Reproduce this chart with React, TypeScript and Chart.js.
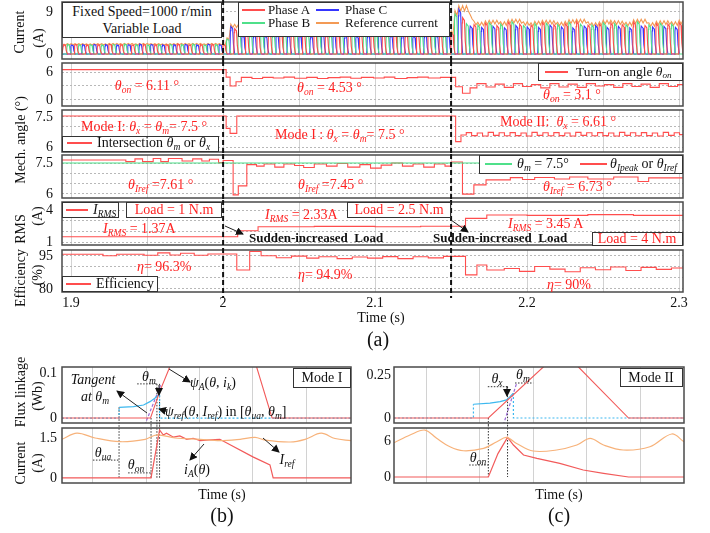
import React, { useEffect, useRef } from 'react';
import { Chart, registerables } from 'chart.js';
Chart.register(...registerables);

const SERIF = '"Liberation Serif", "Times New Roman", serif';
const RED = '#ff4d4d';
const TRED = '#ff2222';
const GREEN = '#4fe08a';
const BLUE = '#3535ff';
const ORANGE = '#f39a55';
const B_RED = '#f25a5a';
const B_ORANGE = '#f7b27a';
const B_BLUE = '#3cb8ef';
const PURPLE = '#9a6ad6';

// ---------------- (a) time axis ----------------
const timeRange = [1.894, 2.3026];
const timeTicks = [1.9, 1.95, 2.0, 2.05, 2.1, 2.15, 2.2, 2.25, 2.3];
const timeLabels = [1.9, 2.0, 2.1, 2.2, 2.3];
const loadSteps = [2.0, 2.15];

// ---------------- (a) phase currents ----------------
const ELEC_PERIOD = 0.0075; // 1000 r/min
const firstOnset = [1.8945, 1.897, 1.8995]; // phase A, B, C
const pulseShapeT = [0, 0.04, 0.08, 0.24, 0.31, 0.42];
const pulseShapeV = [0, 0.85, 1, 0.92, 0.35, 0];
const peaksA = [
  2.0, 2.05, 1.95, 2.0, 2.1, 2.0, 1.95, 2.05, 2.0, 2.0, 2.1, 1.95, 2.0, 2.05, 2.0,
  5.4, 4.4, 4.2, 4.5, 4.3, 4.4, 4.2, 4.5, 4.3, 4.4, 4.6, 4.3, 4.2, 4.4, 4.5, 4.3, 4.2, 4.4, 4.3, 4.5,
  7.8, 6.3, 6.6, 6.1, 6.8, 6.4, 6.2, 6.7, 6.3, 6.5, 6.9, 6.2, 6.4, 6.6, 6.3, 6.8, 6.1, 6.5, 6.4, 6.7,
];
const peaksB = [
  2.05, 2.0, 2.0, 1.95, 2.05, 2.1, 2.0, 1.95, 2.0, 2.05, 2.0, 2.1, 1.95, 2.0,
  3.2, 4.6, 4.3, 4.4, 4.2, 4.5, 4.3, 4.4, 4.6, 4.2, 4.3, 4.5, 4.4, 4.2, 4.3, 4.5, 4.4, 4.3, 4.6, 4.2,
  8.6, 6.5, 6.2, 6.7, 6.4, 6.9, 6.1, 6.5, 6.6, 6.3, 6.8, 6.4, 6.2, 6.7, 6.5, 6.3, 6.9, 6.2, 6.6, 6.4, 6.5,
];
const peaksC = [
  1.95, 2.0, 2.05, 2.0, 1.95, 2.0, 2.1, 2.05, 1.95, 2.0, 2.05, 1.95, 2.1, 2.0,
  5.9, 3.9, 4.1, 3.8, 4.0, 4.2, 3.9, 3.8, 4.1, 4.0, 3.9, 3.8, 4.1, 4.2, 3.9, 4.0, 3.8, 4.1, 3.9, 4.0,
  9.6, 6.0, 5.7, 5.9, 5.6, 6.1, 5.8, 5.7, 6.2, 5.8, 5.6, 6.0, 6.1, 5.7, 5.9, 5.6, 6.0, 5.8, 5.9, 5.7,
];
const refAbovePeak = 1.08;
const refDip = 0.96;

// ---------------- (a) control quantities (time, value) steps ----------------
const thetaOn = [
  [1.894, 6.5], [2.002, 4.9], [2.0046, 3.0], [2.0085, 3.9], [2.012, 4.85], [2.019, 4.6], [2.026, 4.85],
  [2.033, 4.7], [2.04, 4.9], [2.047, 4.65], [2.055, 4.85], [2.062, 4.6], [2.069, 4.8], [2.077, 4.9],
  [2.084, 4.65], [2.091, 4.85], [2.099, 4.7], [2.106, 4.9], [2.113, 4.6], [2.121, 4.8], [2.128, 4.9],
  [2.135, 4.7], [2.143, 4.85], [2.153, 2.85], [2.1575, 1.45], [2.1625, 2.6], [2.167, 3.5], [2.173, 2.8],
  [2.179, 3.4], [2.185, 2.7], [2.191, 3.5], [2.197, 2.9], [2.203, 3.3], [2.209, 2.6], [2.215, 3.5],
  [2.221, 2.8], [2.227, 3.4], [2.233, 2.7], [2.239, 3.5], [2.245, 3.0], [2.251, 3.3], [2.257, 2.7],
  [2.263, 3.5], [2.269, 2.9], [2.275, 3.4], [2.281, 2.7], [2.287, 3.5], [2.293, 2.9], [2.299, 3.3], [2.3026, 3.3],
];
const thetaX = [
  [1.894, 7.55], [2.002, 6.93], [2.0046, 6.68], [2.009, 7.55], [2.153, 6.27], [2.1565, 6.6],
  [2.16, 6.72], [2.1635, 6.57], [2.1672, 6.7], [2.1707, 6.55], [2.1744, 6.73], [2.1779, 6.58],
  [2.1816, 6.71], [2.1851, 6.56], [2.1888, 6.72], [2.1923, 6.57], [2.196, 6.7], [2.1995, 6.55],
  [2.2032, 6.73], [2.2067, 6.58], [2.2104, 6.71], [2.2139, 6.56], [2.2176, 6.72], [2.2211, 6.57],
  [2.2248, 6.7], [2.2283, 6.55], [2.232, 6.73], [2.2355, 6.58], [2.2392, 6.71], [2.2427, 6.56],
  [2.2464, 6.72], [2.2499, 6.57], [2.2536, 6.7], [2.2571, 6.55], [2.2608, 6.73], [2.2643, 6.58],
  [2.268, 6.71], [2.2715, 6.56], [2.2752, 6.72], [2.2787, 6.57], [2.2824, 6.7], [2.2859, 6.55],
  [2.2896, 6.73], [2.2931, 6.58], [2.2968, 6.71], [2.3003, 6.62], [2.3026, 6.62],
];
const thetaM = [[1.894, 7.5], [2.3026, 7.5]];
const thetaIref = [
  [1.894, 7.65], [1.936, 7.57], [1.942, 7.7], [1.947, 7.57], [1.954, 7.72], [1.959, 7.57], [1.964, 7.72],
  [1.973, 7.6], [1.98, 7.7], [1.986, 7.6], [1.991, 7.68], [1.997, 7.52], [2.0, 7.62], [2.0066, 5.95],
  [2.01, 6.39], [2.0156, 7.42], [2.022, 7.35], [2.027, 7.45], [2.034, 7.3], [2.04, 7.45], [2.047, 7.38],
  [2.053, 7.28], [2.06, 7.45], [2.068, 7.35], [2.075, 7.48], [2.082, 7.3], [2.09, 7.42], [2.097, 7.25],
  [2.104, 7.4], [2.111, 7.5], [2.118, 7.35], [2.125, 7.45], [2.132, 7.3], [2.139, 7.45], [2.146, 7.35],
  [2.15, 7.55], [2.1575, 5.99], [2.165, 6.44], [2.173, 6.68], [2.189, 6.79], [2.197, 6.7], [2.205, 6.8],
  [2.218, 6.72], [2.228, 6.82], [2.24, 6.72], [2.257, 6.82], [2.273, 6.6], [2.28, 6.78], [2.3026, 6.78],
];
const iRms = [
  [1.894, 1.5], [2.0096, 2.06], [2.023, 2.43], [2.06, 2.47], [2.1, 2.43], [2.13, 2.48], [2.1595, 3.22],
  [2.1735, 3.53], [2.2, 3.5], [2.24, 3.57], [2.27, 3.5], [2.3026, 3.53],
];
const efficiency = [
  [1.894, 95.8], [1.921, 95.1], [1.93, 95.8], [1.948, 95.3], [1.957, 96.4], [1.965, 95.4], [1.972, 96.2],
  [1.981, 95.3], [1.99, 95.9], [2.009, 88.6], [2.0175, 97.0], [2.025, 95.1], [2.035, 94.2], [2.045, 94.9],
  [2.055, 94.0], [2.063, 94.6], [2.075, 93.8], [2.085, 94.5], [2.095, 94.0], [2.105, 94.7], [2.115, 93.8],
  [2.125, 94.6], [2.135, 94.1], [2.145, 94.8], [2.1595, 86.4], [2.167, 90.9], [2.1735, 88.6], [2.185, 89.3],
  [2.195, 88.0], [2.205, 90.2], [2.215, 89.0], [2.225, 87.8], [2.235, 89.6], [2.245, 88.7], [2.255, 90.0],
  [2.265, 88.4], [2.275, 89.8], [2.285, 88.9], [2.295, 89.5], [2.3026, 89.5],
];

// ---------------- (b) Mode I ----------------
const gridB = [0.58, 1.58, 2.58, 3.58, 4.58];
const fluxA_b = [[0, 0], [1.66, 0], [1.83, 0.058], [2.0, 0.107], [2.05, 0.125], [3.6, 0.125], [3.65, 0.113], [3.94, 0], [5.42, 0]];
const fluxRef_b = [[1.07, 0.0238], [1.34, 0.0251], [1.53, 0.0289], [1.65, 0.0363], [1.74, 0.044], [1.81, 0.0511]];
const fluxRefOff1_b = [[0, 0], [1.07, 0], [1.07, 0.0238]];
const fluxRefOff2_b = [[1.83, 0.0511], [1.83, 0], [5.42, 0]];
const tangent_b = [[1.55, -0.016], [1.85, 0.073]];
const iRef_b = [[0, 1.45], [0.28, 1.68], [0.62, 1.5], [1.09, 1.36], [1.56, 1.45], [1.78, 1.62], [2.12, 1.5], [2.59, 1.45], [2.96, 1.4], [3.34, 1.45], [3.62, 1.52], [3.81, 1.42], [4.28, 1.35], [4.56, 1.45], [4.86, 1.68], [5.12, 1.48], [5.42, 1.4]];
const iA_b = [[0, 0], [1.67, 0], [1.83, 1.8], [1.9, 1.61], [1.96, 1.68], [2.09, 1.53], [2.21, 1.58], [2.34, 1.45], [2.46, 1.49], [2.59, 1.4], [2.78, 1.43], [2.96, 1.45], [3.58, 0.79], [3.9, 0.49], [3.96, 0], [5.42, 0]];
const angles_b = { ua: 1.07, on: 1.67, m1: 1.78, m2: 1.83 };

// ---------------- (c) Mode II ----------------
const gridC = [0.61, 1.61, 2.61, 3.61, 4.62];
const fluxA_c = [[0, 0], [1.77, 0], [2.8, 0.2965], [2.9, 0.325], [3.37, 0.325], [3.46, 0.2965], [4.4, 0], [5.44, 0]];
const fluxRef_c = [[1.49, 0.08], [1.8, 0.086], [1.99, 0.095], [2.11, 0.105], [2.18, 0.125], [2.24, 0.145]];
const fluxRefOff1_c = [[0, 0], [1.49, 0], [1.49, 0.08]];
const fluxRefOff2_c = [[2.24, 0.145], [2.24, 0], [5.44, 0]];
const tangent_c = [[2.05, -0.041], [2.3, 0.2018]];
const iRef_c = [[0, 5.7], [0.3, 7.0], [0.58, 7.83], [0.8, 6.45], [1.05, 5.05], [1.3, 4.38], [1.68, 4.78], [1.93, 5.88], [2.11, 6.6], [2.3, 5.6], [2.61, 4.33], [3.05, 4.5], [3.43, 5.33], [3.68, 6.45], [3.93, 5.33], [4.3, 4.5], [4.8, 5.05], [5.21, 7.17], [5.44, 5.88]];
const iA_c = [[0, 0], [1.77, 0], [1.95, 3.9], [2.13, 6.6], [2.24, 5.33], [2.43, 3.67], [2.68, 3.1], [3.11, 2.28], [3.55, 1.17], [3.93, 0.61], [4.4, 0], [5.44, 0]];
const angles_c = { on: 1.77, x: 2.13 };

// ---------------- helpers ----------------
const pts = (a: number[][]) => a.map(([x, y]) => ({ x, y }));

function pulseTrain(first: number, peaks: number[]) {
  const out: { x: number; y: number }[] = [{ x: timeRange[0], y: 0 }];
  peaks.forEach((p, k) => {
    const t0 = first + k * ELEC_PERIOD;
    pulseShapeT.forEach((f, j) => out.push({ x: t0 + f * ELEC_PERIOD, y: p * pulseShapeV[j] }));
  });
  return out.filter((q) => q.x <= timeRange[1] + 0.01);
}

function referenceCurrent() {
  const all: { t: number; p: number }[] = [];
  [peaksA, peaksB, peaksC].forEach((pk, ph) =>
    pk.forEach((p, k) => all.push({ t: firstOnset[ph] + k * ELEC_PERIOD + pulseShapeT[2] * ELEC_PERIOD, p }))
  );
  all.sort((a, b) => a.t - b.t);
  const out: { x: number; y: number }[] = [];
  all.forEach((e, i) => {
    const lvl = Math.max(e.p, i > 0 ? all[i - 1].p : e.p, i > 1 ? all[i - 2].p : e.p);
    out.push({ x: e.t, y: lvl * refAbovePeak });
    out.push({ x: e.t + ELEC_PERIOD / 6, y: lvl * refDip });
  });
  return out;
}

function line(data: any[], color: string, extra: any = {}) {
  return { data, borderColor: color, backgroundColor: color, borderWidth: 1.1, pointRadius: 0, fill: false, tension: 0, ...extra };
}

const framePlugin = {
  id: 'frame',
  afterDatasetsDraw(chart: any) {
    const { ctx, chartArea: a } = chart;
    ctx.save();
    ctx.strokeStyle = '#4a4a4a';
    ctx.lineWidth = 1.5;
    ctx.setLineDash([]);
    ctx.strokeRect(a.left, a.top, a.right - a.left, a.bottom - a.top);
    ctx.restore();
  },
};

function loadLinePlugin(bottomExtra: number | null) {
  return {
    id: 'loadLines',
    afterDraw(chart: any) {
      const { ctx, scales, chartArea, height } = chart;
      const yEnd = bottomExtra == null ? height : chartArea.bottom + bottomExtra;
      ctx.save();
      ctx.strokeStyle = '#111';
      ctx.lineWidth = 2;
      ctx.setLineDash([5, 3]);
      loadSteps.forEach((v) => {
        const px = scales.x.getPixelForValue(v);
        ctx.beginPath();
        ctx.moveTo(px, 0);
        ctx.lineTo(px, yEnd);
        ctx.stroke();
      });
      ctx.restore();
    },
  };
}

function makeConfig(s: any) {
  const fmt = (v: number) => String(+v.toFixed(3));
  return {
    type: 'line',
    data: { datasets: s.datasets },
    options: {
      animation: false,
      responsive: false,
      devicePixelRatio: 1,
      events: [],
      layout: { padding: s.pad },
      plugins: { legend: { display: false }, tooltip: { enabled: false } },
      scales: {
        x: {
          type: 'linear',
          min: s.xRange[0],
          max: s.xRange[1],
          afterBuildTicks: (sc: any) => { sc.ticks = s.xTicks.map((v: number) => ({ value: v })); },
          grid: { color: '#d2d2d2', lineWidth: 1, drawTicks: false },
          border: { display: false },
          ticks: {
            display: !!s.xLabels,
            autoSkip: false,
            maxRotation: 0,
            padding: 3,
            color: '#111',
            font: { family: SERIF, size: 14 },
            callback: (v: number) => (s.xLabels && s.xLabels.some((l: number) => Math.abs(l - v) < 1e-6) ? fmt(v) : ''),
          },
          afterFit: (sc: any) => { sc.height = s.xHeight || 0; sc.paddingLeft = 0; sc.paddingRight = 0; sc.paddingTop = 0; sc.paddingBottom = 0; },
        },
        y: {
          type: 'linear',
          min: s.yRange[0],
          max: s.yRange[1],
          afterBuildTicks: (sc: any) => { sc.ticks = s.yTicks.map((v: number) => ({ value: v })); },
          grid: { display: s.yGrid !== false, color: '#b8b8b8', lineWidth: 1, drawTicks: false },
          border: { display: false, dash: [2, 2] },
          ticks: {
            autoSkip: false,
            padding: s.tickPad,
            color: '#111',
            font: { family: SERIF, size: 14 },
            callback: (v: number) => (s.yLabels.some((l: number) => Math.abs(l - v) < 1e-9) ? fmt(v) : ''),
          },
          afterFit: (sc: any) => { sc.width = s.yWidth; sc.paddingTop = 0; sc.paddingBottom = 0; sc.paddingLeft = 0; sc.paddingRight = 0; },
        },
      },
    },
    plugins: s.plugins,
  };
}

function ChartBox({ left, top, width, height, spec }: any) {
  const ref = useRef<HTMLCanvasElement>(null);
  useEffect(() => {
    const c = new Chart(ref.current as HTMLCanvasElement, makeConfig(spec()) as any);
    return () => c.destroy();
  }, []);
  return <canvas ref={ref} width={width} height={height} style={{ position: 'absolute', left, top, width, height, display: 'block' }} />;
}

// ---------------- panel specs ----------------
const A_COMMON = { xRange: timeRange, xTicks: timeTicks, yWidth: 62, tickPad: 9 };
const step = (a: number[][], color: string) => line(pts(a), color, { stepped: true });

const specA1 = () => ({
  ...A_COMMON, pad: { top: 2, bottom: 2, left: 0, right: 17 },
  yRange: [-1.07, 11.14], yTicks: [0, 9], yLabels: [0, 9],
  datasets: [
    line(pulseTrain(firstOnset[0], peaksA), RED),
    line(pulseTrain(firstOnset[1], peaksB), GREEN),
    line(pulseTrain(firstOnset[2], peaksC), BLUE),
    line(referenceCurrent(), ORANGE),
  ],
  plugins: [framePlugin, loadLinePlugin(null)],
});
const specA2 = () => ({
  ...A_COMMON, pad: { top: 2, bottom: 2, left: 0, right: 17 },
  yRange: [-1.29, 7.93], yTicks: [0, 3, 6], yLabels: [0, 6],
  datasets: [step(thetaOn, RED)],
  plugins: [framePlugin, loadLinePlugin(null)],
});
const specA3 = () => ({
  ...A_COMMON, pad: { top: 2, bottom: 2, left: 0, right: 17 },
  yRange: [5.75, 7.85], yTicks: [6, 6.5, 7, 7.5], yLabels: [6, 7.5],
  datasets: [step(thetaX, RED)],
  plugins: [framePlugin, loadLinePlugin(null)],
});
const specA4 = () => ({
  ...A_COMMON, pad: { top: 1, bottom: 2, left: 0, right: 17 },
  yRange: [5.8, 7.89], yTicks: [6, 6.5, 7, 7.5], yLabels: [6, 7.5],
  datasets: [line(pts(thetaM), GREEN), step(thetaIref, RED)],
  plugins: [framePlugin, loadLinePlugin(null)],
});
const specA5 = () => ({
  ...A_COMMON, pad: { top: 2, bottom: 3, left: 0, right: 17 },
  yRange: [0.72, 4.75], yTicks: [1, 2, 3, 4], yLabels: [1, 4],
  datasets: [step(iRms, RED)],
  plugins: [framePlugin, loadLinePlugin(null)],
});
const specA6 = () => ({
  ...A_COMMON, pad: { top: 2, bottom: 0, left: 0, right: 17 }, xLabels: timeLabels, xHeight: 26,
  yRange: [78.6, 97.7], yTicks: [80, 85, 90, 95], yLabels: [80, 95],
  datasets: [step(efficiency, RED)],
  plugins: [framePlugin, loadLinePlugin(6)],
});

const dotted = (a: number[][], color = '#333') => line(pts(a), color, { borderWidth: 1, borderDash: [1.5, 1.5], clip: false });
const dotBlue = (a: number[][]) => line(pts(a), B_BLUE, { borderWidth: 1.2, borderDash: [2, 2] });

const FB_LO = -0.0155, CB_HI = 1.98;
const specB1 = () => ({
  xRange: [0, 5.42], xTicks: gridB, yWidth: 62, tickPad: 5, pad: { top: 27, bottom: 2, left: 0, right: 5 },
  yRange: [-0.011, 0.113], yTicks: [0, 0.1], yLabels: [0, 0.1], yGrid: false,
  datasets: [
    line(pts(fluxA_b), B_RED),
    dotBlue(fluxRefOff1_b), dotBlue(fluxRefOff2_b),
    line(pts(fluxRef_b), B_BLUE, { borderWidth: 1.2 }),
    line(pts(tangent_b), PURPLE, { borderDash: [3, 2], borderWidth: 1.2 }),
    dotted([[angles_b.ua, 0.0238], [angles_b.ua, FB_LO]]),
    dotted([[angles_b.on, 0], [angles_b.on, FB_LO]]),
    dotted([[angles_b.m1, 0.0756], [angles_b.m1, FB_LO]]),
    dotted([[angles_b.m2, 0.0756], [angles_b.m2, FB_LO]]),
    dotted([[1.41, 0.0756], [angles_b.m1, 0.0756]]),
  ],
  plugins: [framePlugin],
});
const specB2 = () => ({
  xRange: [0, 5.42], xTicks: gridB, yWidth: 62, tickPad: 5, pad: { top: 3, bottom: 3, left: 0, right: 5 },
  yRange: [-0.19, 1.875], yTicks: [0, 1.5], yLabels: [0, 1.5], yGrid: false,
  datasets: [
    line(pts(iRef_b), B_ORANGE, { tension: 0.35, borderWidth: 1.2 }),
    line(pts(iA_b), B_RED, { borderWidth: 1.2 }),
    dotted([[angles_b.ua, CB_HI], [angles_b.ua, 0]]),
    dotted([[angles_b.on, CB_HI], [angles_b.on, 0]]),
    dotted([[angles_b.m1, CB_HI], [angles_b.m1, 0]]),
    dotted([[angles_b.m2, CB_HI], [angles_b.m2, 0]]),
    dotted([[0.58, 0.67], [angles_b.ua, 0.67]]),
    dotted([[1.24, 0.19], [angles_b.on, 0.19]]),
  ],
  plugins: [framePlugin],
});

const FC_LO = -0.041, CC_HI = 8.67;
const specC1 = () => ({
  xRange: [0, 5.44], xTicks: gridC, yWidth: 38, tickPad: 3, pad: { top: 27, bottom: 2, left: 0, right: 16 },
  yRange: [-0.029, 0.2965], yTicks: [0, 0.25], yLabels: [0, 0.25], yGrid: false,
  datasets: [
    line(pts(fluxA_c), B_RED),
    dotBlue(fluxRefOff1_c), dotBlue(fluxRefOff2_c),
    line(pts(fluxRef_c), B_BLUE, { borderWidth: 1.2 }),
    line(pts(tangent_c), PURPLE, { borderDash: [3, 2], borderWidth: 1.2 }),
    dotted([[angles_c.on, 0], [angles_c.on, FC_LO]]),
    dotted([[angles_c.x, 0.182], [angles_c.x, FC_LO]]),
    dotted([[1.76, 0.182], [angles_c.x, 0.182]]),
    dotted([[2.27, 0.2035], [2.61, 0.2035]]),
  ],
  plugins: [framePlugin],
});
const specC2 = () => ({
  xRange: [0, 5.44], xTicks: gridC, yWidth: 38, tickPad: 3, pad: { top: 3, bottom: 3, left: 0, right: 16 },
  yRange: [-1, 8.17], yTicks: [0, 6], yLabels: [0, 6], yGrid: false,
  datasets: [
    line(pts(iRef_c), B_ORANGE, { tension: 0.35, borderWidth: 1.2 }),
    line(pts(iA_c), B_RED, { borderWidth: 1.2 }),
    dotted([[angles_c.on, CC_HI], [angles_c.on, 0]]),
    dotted([[angles_c.x, CC_HI], [angles_c.x, 0]]),
    dotted([[1.41, 2.0], [angles_c.on, 2.0]]),
  ],
  plugins: [framePlugin],
});

// ---------------- text helpers ----------------
const Sb = ({ c }: any) => <sub style={{ fontSize: '0.68em', verticalAlign: '-0.3em', lineHeight: 0 }}>{c}</sub>;
const Th = ({ s }: any) => (<span><i>θ</i><Sb c={<i>{s}</i>} /></span>);

function Tx({ x, y, a = 'l', size = 14, color = '#111', bold = false, italic = false, children }: any) {
  const tx = a === 'c' ? '-50%' : a === 'r' ? '-100%' : '0';
  return (
    <div style={{ position: 'absolute', left: x, top: y, transform: `translate(${tx}, -50%)`, fontFamily: SERIF, fontSize: size, color, fontWeight: bold ? 'bold' : 'normal', fontStyle: italic ? 'italic' : 'normal', whiteSpace: 'nowrap', lineHeight: 1.1 }}>
      {children}
    </div>
  );
}
function Rot({ x, y, size = 14, children }: any) {
  return (
    <div style={{ position: 'absolute', left: x, top: y, transform: 'translate(-50%, -50%) rotate(-90deg)', fontFamily: SERIF, fontSize: size, color: '#111', whiteSpace: 'nowrap', lineHeight: 1 }}>
      {children}
    </div>
  );
}
function Box({ x, y, w, h }: any) {
  return <div style={{ position: 'absolute', left: x, top: y, width: w, height: h, boxSizing: 'border-box', border: '1.3px solid #333', background: '#fff' }} />;
}
function Seg({ x1, x2, y, color }: any) {
  return <div style={{ position: 'absolute', left: x1, top: y - 1, width: x2 - x1, height: 1.5, background: color }} />;
}

const arrows = [
  [225, 226, 243, 234], [451, 220, 468, 232],
  [147, 413, 117, 391], [169, 369, 190, 382], [166, 411, 159, 409], [159, 385, 159, 395],
  [204, 444, 190, 460], [263, 438, 279, 452], [507, 386, 507, 396],
];

export default function App() {
  const R = { color: TRED };
  return (
    <div style={{ position: 'absolute', left: 0, top: 0, width: 710, height: 533, background: '#fff', overflow: 'hidden', fontFamily: SERIF }}>
      <ChartBox left={0} top={0} width={700} height={61} spec={specA1} />
      <ChartBox left={0} top={61} width={700} height={47} spec={specA2} />
      <ChartBox left={0} top={108} width={700} height={46} spec={specA3} />
      <ChartBox left={0} top={154} width={700} height={46} spec={specA4} />
      <ChartBox left={0} top={200} width={700} height={48} spec={specA5} />
      <ChartBox left={0} top={248} width={700} height={70} spec={specA6} />
      <ChartBox left={0} top={340} width={356} height={85} spec={specB1} />
      <ChartBox left={0} top={425} width={356} height={61} spec={specB2} />
      <ChartBox left={356} top={340} width={344} height={85} spec={specC1} />
      <ChartBox left={356} top={425} width={344} height={61} spec={specC2} />

      <svg width={710} height={533} style={{ position: 'absolute', left: 0, top: 0, pointerEvents: 'none' }}>
        <defs>
          <marker id="ah" markerWidth="8" markerHeight="8" refX="7" refY="4" orient="auto" markerUnits="userSpaceOnUse">
            <path d="M0,0 L8,4 L0,8 z" fill="#111" />
          </marker>
        </defs>
        {arrows.map(([x1, y1, x2, y2], i) => (
          <line key={i} x1={x1} y1={y1} x2={x2} y2={y2} stroke="#222" strokeWidth={1} markerEnd="url(#ah)" />
        ))}
      </svg>

      {/* ---- (a) panel 1 ---- */}
      <Box x={62} y={2} w={160} h={36} />
      <Tx x={142} y={12} a="c">Fixed Speed=1000 r/min</Tx>
      <Tx x={142} y={29} a="c">Variable Load</Tx>
      <Box x={238} y={2} w={212} h={35} />
      <Seg x1={242} x2={265} y={10} color={RED} />
      <Tx x={268} y={10} size={13}>Phase A</Tx>
      <Seg x1={316} x2={339} y={10} color={BLUE} />
      <Tx x={345} y={10} size={13}>Phase C</Tx>
      <Seg x1={242} x2={265} y={23} color={GREEN} />
      <Tx x={268} y={23} size={13}>Phase B</Tx>
      <Seg x1={316} x2={339} y={23} color={ORANGE} />
      <Tx x={345} y={23} size={13}>Reference current</Tx>

      {/* ---- (a) panel 2 ---- */}
      <Tx x={147} y={86} a="c" {...R}><Th s="on" /> = 6.11 °</Tx>
      <Tx x={297} y={88} {...R}><Th s="on" /> = 4.53 °</Tx>
      <Tx x={543} y={95} {...R}><Th s="on" /> = 3.1 °</Tx>
      <Box x={538} y={63} w={145} h={18} />
      <Seg x1={545} x2={568} y={72} color={RED} />
      <Tx x={576} y={72} size={13.5}>Turn-on angle <Th s="on" /></Tx>

      {/* ---- (a) panel 3 ---- */}
      <Tx x={81} y={127} {...R}>Mode I: <Th s="x" /> = <Th s="m" />= 7.5 °</Tx>
      <Tx x={275} y={135} {...R}>Mode I : <Th s="x" /> = <Th s="m" />= 7.5 °</Tx>
      <Tx x={500} y={122} {...R}>Mode II:&nbsp; <Th s="x" /> = 6.61 °</Tx>
      <Box x={62} y={136} w={157} h={16} />
      <Seg x1={67} x2={92} y={143} color={RED} />
      <Tx x={97} y={143}>Intersection <Th s="m" /> or <Th s="x" /></Tx>

      {/* ---- (a) panel 4 ---- */}
      <Tx x={128} y={185} {...R}><Th s="Iref" /> =7.61 °</Tx>
      <Tx x={298} y={185} {...R}><Th s="Iref" /> =7.45 °</Tx>
      <Tx x={543} y={187} {...R}><Th s="Iref" /> = 6.73 °</Tx>
      <Box x={479} y={155} w={204} h={19} />
      <Seg x1={485} x2={512} y={164} color={GREEN} />
      <Tx x={517} y={164}><Th s="m" /> = 7.5°</Tx>
      <Seg x1={580} x2={607} y={164} color={RED} />
      <Tx x={610} y={164}><Th s="Ipeak" /> or <Th s="Iref" /></Tx>

      {/* ---- (a) panel 5 ---- */}
      <Box x={62} y={202} w={57} h={16} />
      <Seg x1={66} x2={88} y={210} color={RED} />
      <Tx x={93} y={210}><i>I</i><Sb c={<i>RMS</i>} /></Tx>
      <Box x={126} y={202} w={96} h={16} />
      <Tx x={174} y={210} a="c" {...R}>Load = 1 N.m</Tx>
      <Tx x={103} y={229} {...R}><i>I</i><Sb c={<i>RMS</i>} /> = 1.37A</Tx>
      <Tx x={265} y={215} {...R}><i>I</i><Sb c={<i>RMS</i>} /> = 2.33A</Tx>
      <Box x={347} y={202} w={104} h={16} />
      <Tx x={399} y={210} a="c" {...R}>Load = 2.5 N.m</Tx>
      <Tx x={508} y={224} {...R}><i>I</i><Sb c={<i>RMS</i>} /> = 3.45 A</Tx>
      <Tx x={249} y={238} size={13} bold>Sudden-increased&nbsp; Load</Tx>
      <Tx x={433} y={238} size={13} bold>Sudden-increased&nbsp; Load</Tx>
      <Box x={592} y={232} w={91} h={14} />
      <Tx x={637} y={239} a="c" {...R}>Load = 4 N.m</Tx>

      {/* ---- (a) panel 6 ---- */}
      <Tx x={137} y={267} {...R}><i>η</i>= 96.3%</Tx>
      <Tx x={298} y={275} {...R}><i>η</i>= 94.9%</Tx>
      <Tx x={547} y={285} {...R}><i>η</i>= 90%</Tx>
      <Box x={62} y={276} w={96} h={16} />
      <Seg x1={66} x2={91} y={284} color={RED} />
      <Tx x={96} y={284}>Efficiency</Tx>

      {/* ---- (a) axis titles ---- */}
      <Rot x={20} y={32}>Current</Rot>
      <Rot x={39} y={38}>(A)</Rot>
      <Rot x={21} y={140}>Mech. angle (°)</Rot>
      <Rot x={21} y={229}>RMS</Rot>
      <Rot x={38} y={216}>(A)</Rot>
      <Rot x={21} y={278}>Efficiency</Rot>
      <Rot x={38} y={275}>(%)</Rot>
      <Tx x={381} y={318} a="c">Time (s)</Tx>
      <Tx x={378} y={339} a="c" size={20}>(a)</Tx>

      {/* ---- (b) ---- */}
      <Rot x={21} y={392}>Flux linkage</Rot>
      <Rot x={38} y={396}>(Wb)</Rot>
      <Rot x={21} y={463}>Current</Rot>
      <Rot x={38} y={463}>(A)</Rot>
      <Box x={293} y={368} w={58} h={20} />
      <Tx x={322} y={378} a="c">Mode I</Tx>
      <Tx x={93} y={380} a="c" italic>Tangent</Tx>
      <Tx x={95} y={397} a="c" italic>at <Th s="m" /></Tx>
      <Tx x={149} y={377} a="c"><Th s="m" /></Tx>
      <Tx x={190} y={383}><i>ψ</i><Sb c={<i>A</i>} />(<i>θ</i>, <i>i</i><Sb c={<i>k</i>} />)</Tx>
      <Tx x={165} y={412}><i>ψ</i><Sb c={<i>ref</i>} />(<i>θ</i>, <i>I</i><Sb c={<i>ref</i>} />) in [<Th s="ua" />, <Th s="m" />]</Tx>
      <Tx x={103} y={453} a="c"><Th s="ua" /></Tx>
      <Tx x={136} y={465} a="c"><Th s="on" /></Tx>
      <Tx x={197} y={470} a="c"><i>i</i><Sb c={<i>A</i>} />(<i>θ</i>)</Tx>
      <Tx x={287} y={460} a="c"><i>I</i><Sb c={<i>ref</i>} /></Tx>
      <Tx x={222} y={495} a="c">Time (s)</Tx>
      <Tx x={222} y={515} a="c" size={20}>(b)</Tx>

      {/* ---- (c) ---- */}
      <Box x={620} y={368} w={63} h={19} />
      <Tx x={651} y={378} a="c">Mode II</Tx>
      <Tx x={497} y={379} a="c"><Th s="x" /></Tx>
      <Tx x={523} y={375} a="c"><Th s="m" /></Tx>
      <Tx x={478} y={458} a="c"><Th s="on" /></Tx>
      <Tx x={559} y={495} a="c">Time (s)</Tx>
      <Tx x={559} y={515} a="c" size={20}>(c)</Tx>
    </div>
  );
}
